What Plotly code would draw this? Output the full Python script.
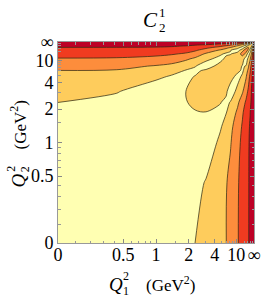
import plotly.graph_objects as go

# ---- data -------------------------------------------------------------
# grid nodes in the compactified coordinate u = Q^2 / (1 + Q^2)  (0 -> 0, inf -> 1)
grid_u = [0, 0.3, 0.5, 0.58, 0.65, 0.7, 0.755, 0.828, 0.858, 0.88, 0.916,
          0.941, 0.959, 0.971, 0.98, 0.986, 0.99, 0.993, 0.995, 1.0]

# band index (levels 1..4 are the drawn contours);
# row j holds the values for u1 = grid_u[j:] at u2 = grid_u[j] (the map is symmetric)
row_00 = [0, 0.1, 0.2, 0.3, 0.69, 1.005, 1.34, 1.8, 1.99, 2.33, 2.93, 3.38, 3.71, 3.93, 4.2, 4.44, 4.6, 4.72, 4.8, 5]
row_01 = [0.25, 0.25, 0.3, 0.35, 0.63, 1.08, 1.69, 1.94, 2.26, 2.89, 3.36, 3.7, 3.92, 4.2, 4.44, 4.6, 4.72, 4.8, 5]
row_02 = [0.55, 0.5, 0.45, 0.4, 0.27, 1.24, 1.64, 1.93, 2.69, 3.24, 3.63, 3.89, 4.17, 4.42, 4.58, 4.71, 4.79, 5]
row_03 = [0.75, 0.7, 0.6, 0.5, 0.88, 1.38, 1.75, 2.5, 3.1, 3.54, 3.83, 4.09, 4.36, 4.55, 4.68, 4.77, 5]
row_04 = [0.95, 0.97, 0.99, 0.75, 0.96, 1.4, 2.17, 2.89, 3.39, 3.72, 3.97, 4.26, 4.47, 4.63, 4.74, 5]
row_05 = [1.1, 1.18, 1.05, 0.75, 1.06, 1.81, 2.53, 3.13, 3.53, 3.83, 4.07, 4.33, 4.53, 4.67, 5]
row_06 = [1.3, 1.24, 1.2, 0.35, 1.31, 1.88, 2.59, 3.16, 3.64, 3.97, 4.25, 4.47, 4.64, 5]
row_07 = [1.54, 1.52, 1.5, 0.6, 1.19, 1.89, 2.57, 3.19, 3.65, 3.96, 4.25, 4.47, 5]
row_08 = [1.66, 1.6, 1.3, 0.8, 1.59, 2.18, 2.88, 3.42, 3.79, 4.11, 4.36, 5]
row_09 = [1.75, 1.6, 0.9, 1.05, 1.87, 2.58, 3.17, 3.63, 3.96, 4.24, 5]
row_10 = [1.97, 1.6, 0.35, 1.31, 1.88, 2.59, 3.15, 3.63, 3.95, 5]
row_11 = [2.25, 1.85, 0.35, 1.31, 1.88, 2.58, 3.15, 3.6, 5]
row_12 = [2.25, 1.88, 0.35, 1.31, 1.86, 2.54, 3.1, 5]
row_13 = [2.1, 1.7, 0.35, 1.31, 1.88, 2.57, 5]
row_14 = [1.85, 1.6, 0.35, 1.31, 1.85, 5]
row_15 = [1.75, 1.55, 0.35, 1.31, 5]
row_16 = [1.7, 1.5, 0.35, 5]
row_17 = [1.65, 1.45, 5]
row_18 = [1.6, 5]
row_19 = [5]

levels = [1, 2, 3, 4]
band_colors = ['#ffffb2', '#fecc5c', '#fd8d3c', '#f03b20', '#bd0026']

q2_ticks = [0, 0.5, 1, 2, 4, 10, float('inf')]
tick_text = ['0', '0.5', '1', '2', '4', '10', '\u221e']
q2_minor = [0.1, 0.2, 0.3, 0.4, 0.6, 0.7, 0.8, 0.9, 1.5, 3, 5, 6, 7, 8, 9, 20, 30, 50, 100]

# ---- build ------------------------------------------------------------
tri = [row_00, row_01, row_02, row_03, row_04, row_05, row_06, row_07, row_08, row_09,
       row_10, row_11, row_12, row_13, row_14, row_15, row_16, row_17, row_18, row_19]
n = len(grid_u)
Z = [[tri[min(i, j)][abs(i - j)] for i in range(n)] for j in range(n)]


def to_u(q):
    return 1.0 if q == float('inf') else q / (1.0 + q)


tick_u = [to_u(q) for q in q2_ticks]
minor_u = [to_u(q) for q in q2_minor]

nb = len(band_colors)
cscale = [[k / (nb - 1), c] for k, c in enumerate(band_colors)]

fig = go.Figure(go.Contour(
    x=grid_u, y=grid_u, z=Z,
    contours=dict(start=levels[0], end=levels[-1], size=1, coloring='fill'),
    colorscale=cscale, showscale=False,
    line=dict(color='rgba(45,40,20,0.9)', width=0.8, smoothing=1.0),
    hoverinfo='skip'))

FONT = 'Liberation Serif'
axis_common = dict(range=[0, 1], tickmode='array', tickvals=tick_u, ticktext=tick_text,
                   ticks='inside', ticklen=4, tickwidth=1, tickcolor='#888',
                   showline=True, linecolor='#999', linewidth=1, mirror='allticks',
                   showgrid=False, zeroline=False,
                   tickfont=dict(family=FONT, size=18, color='black'),
                   minor=dict(tickvals=minor_u, ticks='inside', ticklen=2.5,
                              tickcolor='#999', tickwidth=1))
fig.update_xaxes(**axis_common, ticklabelstandoff=-5)
fig.update_yaxes(**axis_common)

L, R, T, B = 58, 9, 42, 54
W, H = 270, 297
pw, ph = W - L - R, H - T - B


def px(x):
    return (x - L) / pw


def py(y):
    return (T + ph - y) / ph


def ann(text, x, y, size, angle=0, italic=False):
    t = '<i>%s</i>' % text if italic else text
    return dict(text=t, x=px(x), y=py(y), xref='paper', yref='paper',
                showarrow=False, xanchor='center', yanchor='middle', textangle=angle,
                font=dict(family=FONT, size=size, color='black'))


annotations = [
    ann('C', 154, 20, 21, italic=True),
    ann('1', 166, 12, 13),
    ann('2', 166, 27, 13),
    ann('Q', 118, 284, 19, italic=True),
    ann('2', 128, 276, 12),
    ann('1', 128, 291, 12),
    ann('(GeV<sup>2</sup>)', 174, 284, 17),
    ann('Q', 17, 180, 19, angle=-90, italic=True),
    ann('2', 9, 169, 12, angle=-90),
    ann('2', 24, 169, 12, angle=-90),
    ann('(GeV<sup>2</sup>)', 17, 125, 17, angle=-90),
]

fig.update_layout(width=W, height=H, margin=dict(l=L, r=R, t=T, b=B),
                  paper_bgcolor='white', plot_bgcolor='white',
                  annotations=annotations, showlegend=False)

# place the figure at the very top-left of the page (no default body margin)
fig.write_html('out.html', config={'displayModeBar': False},
               post_script="document.body.style.margin='0px';")
